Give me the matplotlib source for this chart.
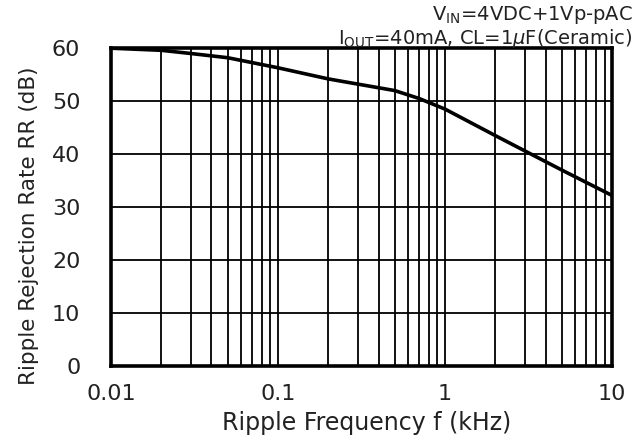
import matplotlib
matplotlib.use("Agg")
import matplotlib.pyplot as plt
from matplotlib.ticker import LogLocator, FixedLocator, FixedFormatter

freq_khz = [0.01, 0.02, 0.03, 0.05, 0.1, 0.2, 0.5, 0.7, 1.0, 2.0, 5.0, 10.0]
rr_db = [60.0, 59.6, 59.0, 58.2, 56.3, 54.2, 52.0, 50.5, 48.5, 43.5, 37.0, 32.2]
x_ticks = [0.01, 0.1, 1, 10]
x_ticklabels = ["0.01", "0.1", "1", "10"]
y_ticks = [0, 10, 20, 30, 40, 50, 60]

plt.rcParams['font.family'] = ['DejaVu Sans']
plt.rcParams['mathtext.fontset'] = 'dejavusans'
txt = '#222222'

fig = plt.figure(figsize=(6.41, 4.38), dpi=100)
ax = fig.add_axes([0.173, 0.164, 0.782, 0.726])

ax.plot(freq_khz, rr_db, color='black', lw=2.6, zorder=3)
ax.set_xscale('log')
ax.set_xlim(0.01, 10)
ax.set_ylim(0, 60)

ax.xaxis.set_major_locator(FixedLocator(x_ticks))
ax.xaxis.set_major_formatter(FixedFormatter(x_ticklabels))
ax.xaxis.set_minor_locator(LogLocator(base=10, subs=range(2, 10)))
ax.xaxis.set_minor_formatter(plt.NullFormatter())
ax.set_yticks(y_ticks)

ax.grid(True, which='both', axis='x', color='black', lw=1.3)
ax.grid(True, which='major', axis='y', color='black', lw=1.3)
ax.tick_params(which='both', length=0, labelsize=16, colors=txt)
ax.tick_params(axis='x', pad=13)
ax.tick_params(axis='y', pad=22)

for s in ax.spines.values():
    s.set_linewidth(2.6)

ax.set_xlabel('Ripple Frequency f (kHz)', fontsize=17, color=txt)
ax.xaxis.set_label_coords(0.511, -0.1415)
ax.set_ylabel('Ripple Rejection Rate RR (dB)', fontsize=15.5, color=txt)
ax.yaxis.set_label_coords(-0.1437, 0.443)

fig.text(0.987, 0.966, r'V$_{\mathrm{IN}}$=4VDC+1Vp-pAC', ha='right', va='center', fontsize=14, color=txt)
fig.text(0.987, 0.913, r'I$_{\mathrm{OUT}}$=40mA, CL=1$\mu$F(Ceramic)', ha='right', va='center', fontsize=14, color=txt)

fig.savefig('out.png', dpi=100)
